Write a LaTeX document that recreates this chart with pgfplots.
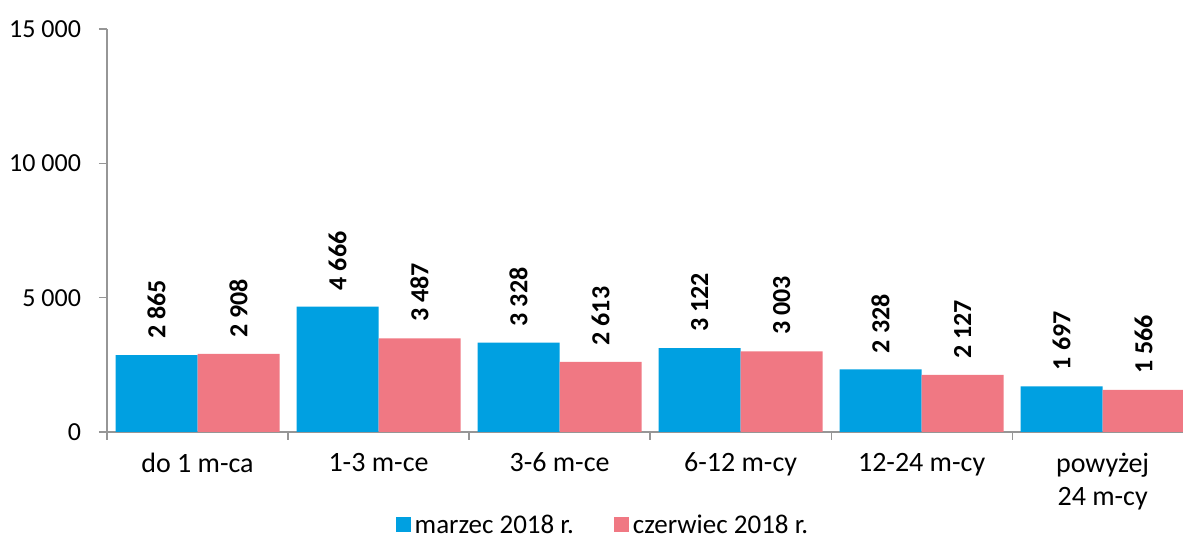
\documentclass[border=0pt]{standalone}
\usepackage{fontspec}
\setmainfont{Carlito}
\usepackage{pgfplots}
\pgfplotsset{compat=1.18}
\usetikzlibrary{calc}
\definecolor{bblue}{RGB}{0,160,225}
\definecolor{bpink}{RGB}{240,120,131}
\definecolor{axgray}{RGB}{150,150,150}

\begin{document}
\fontsize{13pt}{16.5pt}\selectfont
\begin{tikzpicture}
\begin{axis}[
  scale only axis, width=539pt, height=201.5pt,
  xmin=-0.5, xmax=5.455, ymin=0, ymax=15000,
  axis x line*=bottom, axis y line*=left,
  axis line style={draw=axgray, line width=0.6pt, -},
  tick align=outside,
  ytick={0,5000,10000,15000},
  scaled y ticks=false,
  ytick style={draw=axgray, line width=0.6pt},
  major tick length=4pt,
  xtick={0,...,5},
  xticklabels={do 1 m-ca, 1-3 m-ce, 3-6 m-ce, 6-12 m-cy, 12-24 m-cy, {powyżej\\24 m-cy}},
  xticklabel style={align=center, font=\fontsize{14pt}{16.5pt}\selectfont, yshift=-2pt},
  yticklabel style={font=\fontsize{13pt}{16.5pt}\selectfont, xshift=-4.5pt},
  xtick style={draw=none},
  extra x ticks={-0.5,0.5,1.5,2.5,3.5,4.5},
  extra x tick labels={},
  extra x tick style={xtick style={draw=axgray, line width=0.6pt}},
  /pgf/number format/.cd, 1000 sep={\ }, assume math mode=true, /pgfplots/.cd,
  ybar=0pt, bar width=0.453,
  nodes near coords,
  every node near coord/.append style={rotate=90, anchor=west, font=\fontsize{13pt}{16.5pt}\selectfont\bfseries, inner xsep=8pt},
  legend style={at={(0.461,-0.234)}, anchor=center, legend columns=2, draw=none, fill=none,
    font=\fontsize{13.5pt}{16pt}\selectfont,
    /tikz/every even column/.append style={column sep=18pt}},
  legend image code/.code={\fill[#1, draw=none] (0pt,-3pt) rectangle (7.5pt,4.5pt);},
]
\addplot[fill=bblue, draw=none] coordinates {(0,2865) (1,4666) (2,3328) (3,3122) (4,2328) (5,1697)};
\addplot[fill=bpink, draw=none] coordinates {(0,2908) (1,3487) (2,2613) (3,3003) (4,2127) (5,1566)};
\legend{marzec 2018 r., czerwiec 2018 r.}
\coordinate (O) at (rel axis cs:0,0);
\end{axis}
\pgfresetboundingbox
\path[use as bounding box] ($(O)+(-53.5pt,-53.5pt)$) rectangle ($(O)+(538pt,216pt)$);
\end{tikzpicture}
\end{document}
